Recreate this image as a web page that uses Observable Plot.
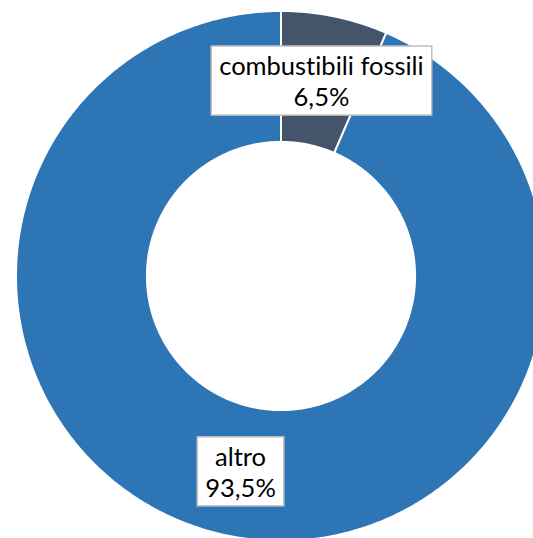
<!DOCTYPE html>
<html>
<head>
<meta charset="utf-8">
<script src="https://cdn.jsdelivr.net/npm/d3@7"></script>
<script src="https://cdn.jsdelivr.net/npm/@observablehq/plot@0.6"></script>
<style>
  body { margin: 0; background: #fff; }
  svg text { font-variant-ligatures: none; }
</style>
</head>
<body>
<div id="chart"></div>
<script>
const categories = ["combustibili fossili", "altro"];
const values = [6.5, 93.5];
const valueLabels = ["6,5%", "93,5%"];
const colors = ["#44546A", "#2E75B6"];

const innerRatio = 0.506;
const arcs = d3.pie().sort(null).value(d => d)(values);

// slice outlines in unit polar space (angle 0 at 12 o'clock, clockwise)
const points = [];
arcs.forEach((a, i) => {
  const n = Math.max(8, Math.ceil((a.endAngle - a.startAngle) / 0.01));
  for (let k = 0; k <= n; k++) {
    const t = a.startAngle + (a.endAngle - a.startAngle) * k / n;
    points.push({cat: categories[i], x: Math.sin(t), y: Math.cos(t)});
  }
  for (let k = n; k >= 0; k--) {
    const t = a.startAngle + (a.endAngle - a.startAngle) * k / n;
    points.push({cat: categories[i], x: innerRatio * Math.sin(t), y: innerRatio * Math.cos(t)});
  }
});

const labelR = (1 + innerRatio) / 2;
const labelData = arcs.map((a, i) => {
  const m = (a.startAngle + a.endAngle) / 2;
  return {cat: categories[i], text: categories[i] + "\n" + valueLabels[i],
          x: labelR * Math.sin(m), y: labelR * Math.cos(m)};
});

const W = 533, H = 538, cx = 280.5, cy = 275.5, R = 265;
const FONT = "Lato, 'Open Sans', sans-serif";

const svg = Plot.plot({
  width: W, height: H,
  margin: 0,
  style: {background: "#fff", fontFamily: FONT},
  x: {domain: [(0 - cx) / R, (W - cx) / R], range: [0, W], axis: null},
  y: {domain: [(cy - H) / R, cy / R], range: [H, 0], axis: null},
  color: {domain: categories, range: colors},
  marks: [
    Plot.line(points, {x: "x", y: "y", z: "cat", fill: "cat", stroke: "white",
      strokeWidth: 2, strokeLinejoin: "miter", curve: "linear-closed"}),
    Plot.text(labelData, {x: "x", y: "y", text: "text", fill: "black",
      fontSize: 25.5, lineHeight: 1.22, fontFamily: FONT})
  ]
});

document.getElementById("chart").appendChild(svg);

// white label boxes with light grey border behind each label
d3.select(svg).selectAll("g[aria-label='text'] text").each(function() {
  const b = this.getBBox();
  const px = 8, py = 4;
  const r = d3.select(this.parentNode).insert("rect", () => this)
    .attr("x", b.x - px).attr("y", b.y - py)
    .attr("width", b.width + 2 * px).attr("height", b.height + 2 * py)
    .attr("fill", "white").attr("stroke", "#BFBFBF").attr("stroke-width", 1.5);
  const tr = this.getAttribute("transform");
  if (tr) r.attr("transform", tr);
});
</script>
</body>
</html>
